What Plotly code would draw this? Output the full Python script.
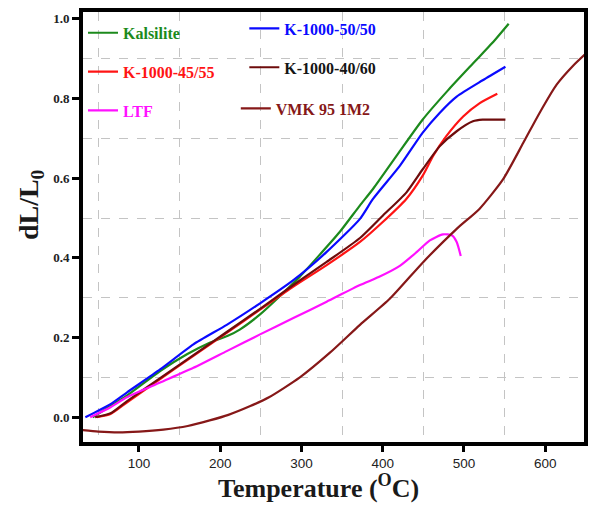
import plotly.graph_objects as go

# ---------------- data ----------------
kal_T = [43, 60, 85, 126, 159, 187, 210, 224, 249, 273, 298, 322, 347, 372, 388, 420, 449, 480, 511, 535, 555]
kal_v = [0.0, 0.022, 0.054, 0.116, 0.158, 0.187, 0.205, 0.22, 0.258, 0.303, 0.353, 0.407, 0.465, 0.532, 0.573, 0.665, 0.747, 0.82, 0.888, 0.94, 0.988]

k50_T = [34, 65, 85, 126, 167, 208, 249, 290, 331, 372, 388, 421, 449, 470, 491, 523, 551]
k50_v = [0.0, 0.033, 0.062, 0.12, 0.183, 0.232, 0.286, 0.344, 0.415, 0.498, 0.548, 0.631, 0.714, 0.764, 0.805, 0.846, 0.88]

k45_T = [48, 65, 85, 126, 167, 208, 249, 290, 331, 372, 400, 429, 449, 462, 478, 499, 519, 541]
k45_v = [0.0, 0.008, 0.037, 0.096, 0.154, 0.212, 0.27, 0.328, 0.382, 0.44, 0.49, 0.548, 0.606, 0.656, 0.705, 0.755, 0.788, 0.812]

k40_T = [46, 65, 85, 126, 167, 208, 249, 290, 331, 372, 400, 429, 449, 470, 491, 511, 523, 551]
k40_v = [0.0, 0.01, 0.04, 0.098, 0.156, 0.214, 0.272, 0.332, 0.39, 0.45, 0.506, 0.564, 0.622, 0.68, 0.718, 0.743, 0.747, 0.747]

ltf_T = [40, 65, 85, 126, 167, 208, 249, 290, 331, 372, 395, 421, 442, 458, 474, 485, 491, 496]
ltf_v = [0.0, 0.025, 0.05, 0.087, 0.124, 0.166, 0.208, 0.249, 0.29, 0.332, 0.352, 0.38, 0.415, 0.444, 0.459, 0.457, 0.44, 0.405]

vmk_T = [29, 50, 75, 100, 130, 160, 187, 210, 237, 260, 298, 335, 372, 409, 450, 491, 519, 548, 573, 593, 614, 634, 651]
vmk_v = [-0.032, -0.036, -0.038, -0.036, -0.031, -0.022, -0.008, 0.006, 0.028, 0.05, 0.1, 0.162, 0.232, 0.298, 0.39, 0.473, 0.523, 0.597, 0.689, 0.764, 0.835, 0.882, 0.915]

x_ticks = [100, 200, 300, 400, 500, 600]
y_ticks = [0.0, 0.2, 0.4, 0.6, 0.8, 1.0]
y_ticktext = ["0.0", "0.2", "0.4", "0.6", "0.8", "1.0"]
x_grid = [50, 150, 250, 350, 450, 550, 650]
y_grid = [0.1, 0.3, 0.5, 0.7, 0.9]

series = [
    ("Kalsilite", kal_T, kal_v, "#1c8a1c", "#1c8a1c", "legend"),
    ("K-1000-50/50", k50_T, k50_v, "#0a0aff", "#0a0aff", "legend2"),
    ("K-1000-45/55", k45_T, k45_v, "#ff1414", "#ff1414", "legend"),
    ("K-1000-40/60", k40_T, k40_v, "#6e0c0c", "#151515", "legend2"),
    ("LTF", ltf_T, ltf_v, "#ff10ff", "#ff10ff", "legend"),
    ("VMK 95 1M2", vmk_T, vmk_v, "#861818", "#861818", "legend3"),
]

fig = go.Figure()
for i, (name, xs, ys, col, tcol, lg) in enumerate(series):
    fig.add_trace(go.Scatter(
        x=xs, y=ys, mode="lines", line=dict(color=col, width=2.2, shape="spline", smoothing=0.6),
        name=f'<span style="color:{tcol}">{name}</span>', legend=lg, legendgroup=f"g{i}",
    ))

legend_common = dict(
    bgcolor="rgba(0,0,0,0)", borderwidth=0, tracegroupgap=15, itemwidth=30,
    font=dict(family="Liberation Serif", size=16, weight="bold"),
    xanchor="left", yanchor="top", orientation="v",
)

fig.update_layout(
    width=596, height=506,
    margin=dict(l=83, r=12, t=8, b=64),
    paper_bgcolor="white", plot_bgcolor="white",
    showlegend=True,
    legend=dict(x=0.0, y=0.991, **legend_common),
    legend2=dict(x=0.322, y=1.001, **legend_common),
    legend3=dict(x=0.305, y=0.815, **legend_common),
    xaxis=dict(
        range=[31.1, 647.7], tickvals=x_ticks, ticks="outside", ticklen=6, tickwidth=3,
        tickcolor="black", showline=True, linewidth=4, linecolor="black", mirror=True,
        showgrid=False, zeroline=False,
        tickfont=dict(family="Liberation Sans", size=13.5, color="#222"),
        minor=dict(tickvals=x_grid, showgrid=True, gridcolor="#c4c4c4", griddash="dash", gridwidth=1, ticks=""),
    ),
    yaxis=dict(
        range=[-0.0622, 1.0174], tickvals=y_ticks, ticktext=y_ticktext, ticks="outside", ticklen=7,
        tickwidth=3, tickcolor="black", showline=True, linewidth=4, linecolor="black", mirror=True,
        showgrid=False, zeroline=False,
        tickfont=dict(family="Liberation Serif", size=13, color="#222", weight="bold"),
        minor=dict(tickvals=y_grid, showgrid=True, gridcolor="#c4c4c4", griddash="dash", gridwidth=1, ticks=""),
    ),
    annotations=[
        dict(text="Temperature (<sup>O</sup>C)", xref="paper", yref="paper", x=0.471, y=-0.1445,
             xanchor="center", yanchor="bottom", showarrow=False, borderpad=0,
             font=dict(family="Liberation Serif", size=26, color="#1a1a1a", weight="bold")),
        dict(text="dL/L<sub>0</sub>", xref="paper", yref="paper", x=-0.106, y=0.553,
             xanchor="center", yanchor="middle", showarrow=False, textangle=-90,
             font=dict(family="Liberation Serif", size=28, color="#1a1a1a", weight="bold")),
    ],
)

fig.write_html("out.html")
